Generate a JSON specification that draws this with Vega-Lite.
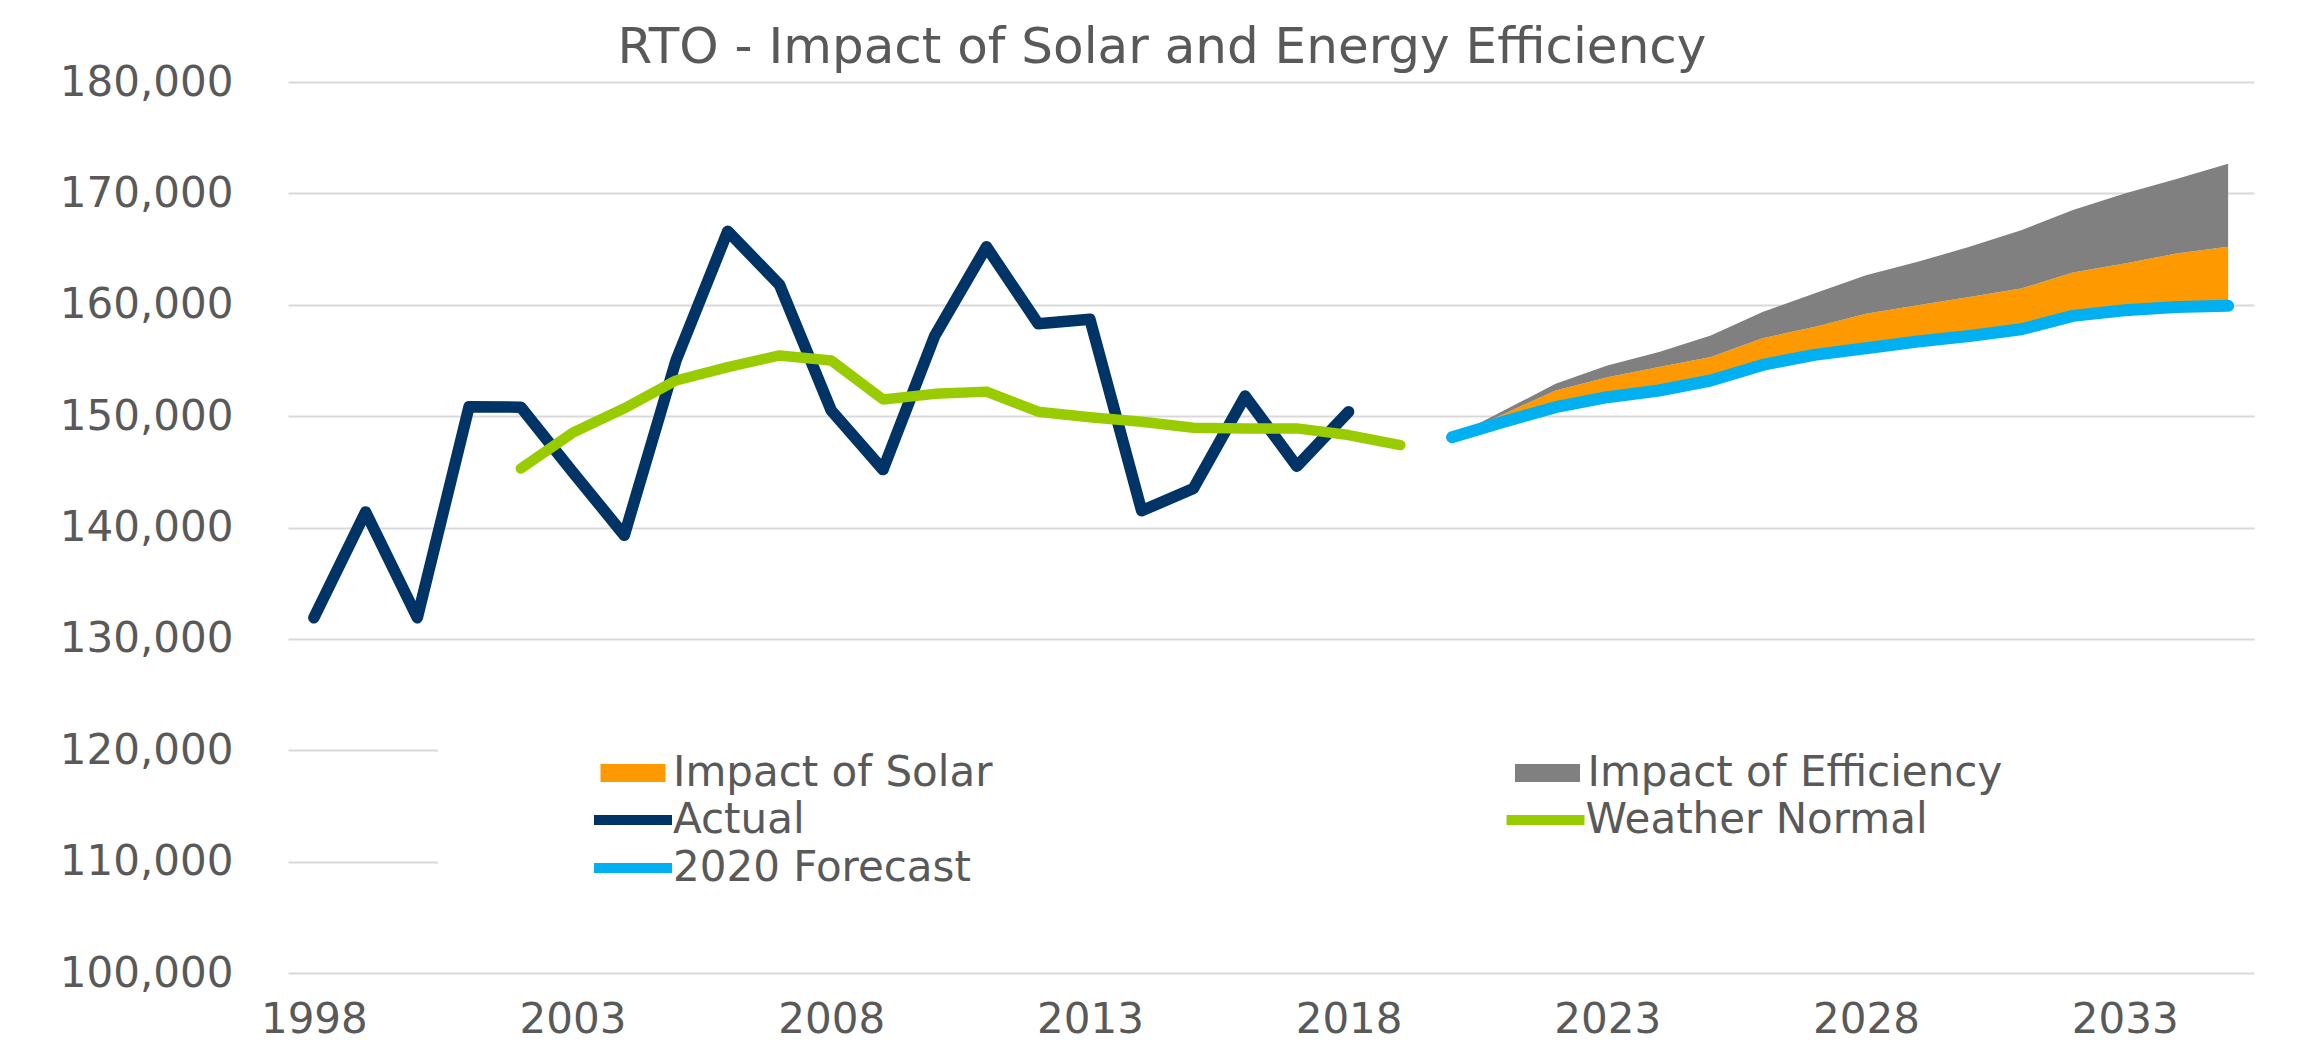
{
  "$schema": "https://vega.github.io/schema/vega-lite/v6.json",
  "autosize": {"type": "none"},
  "width": 1966,
  "height": 891,
  "padding": {"left": 288, "top": 82, "right": 69, "bottom": 69},
  "background": "white",
  "config": {"view": {"stroke": null}},
  "title": {
    "text": "RTO - Impact of Solar and Energy Efficiency",
    "font": "DejaVu Sans",
    "fontSize": 50,
    "fontWeight": "normal",
    "color": "#595959",
    "anchor": "middle",
    "frame": "group",
    "dx": -109,
    "dy": 62,
    "baseline": "alphabetic",
    "offset": 10
  },
  "data": {
    "values": [
      {"year": 1998, "series": "Actual", "value": 131900},
      {"year": 1999, "series": "Actual", "value": 141400},
      {"year": 2000, "series": "Actual", "value": 131900},
      {"year": 2001, "series": "Actual", "value": 150850},
      {"year": 2002, "series": "Actual", "value": 150800},
      {"year": 2003, "series": "Actual", "value": 145000},
      {"year": 2004, "series": "Actual", "value": 139300},
      {"year": 2005, "series": "Actual", "value": 155000},
      {"year": 2006, "series": "Actual", "value": 166600},
      {"year": 2007, "series": "Actual", "value": 161800},
      {"year": 2008, "series": "Actual", "value": 150500},
      {"year": 2009, "series": "Actual", "value": 145200},
      {"year": 2010, "series": "Actual", "value": 157200},
      {"year": 2011, "series": "Actual", "value": 165200},
      {"year": 2012, "series": "Actual", "value": 158300},
      {"year": 2013, "series": "Actual", "value": 158700},
      {"year": 2014, "series": "Actual", "value": 141500},
      {"year": 2015, "series": "Actual", "value": 143500},
      {"year": 2016, "series": "Actual", "value": 151800},
      {"year": 2017, "series": "Actual", "value": 145500},
      {"year": 2018, "series": "Actual", "value": 150400},
      {"year": 2002, "series": "Weather Normal", "value": 145300},
      {"year": 2003, "series": "Weather Normal", "value": 148500},
      {"year": 2004, "series": "Weather Normal", "value": 150700},
      {"year": 2005, "series": "Weather Normal", "value": 153200},
      {"year": 2006, "series": "Weather Normal", "value": 154400},
      {"year": 2007, "series": "Weather Normal", "value": 155450},
      {"year": 2008, "series": "Weather Normal", "value": 155000},
      {"year": 2009, "series": "Weather Normal", "value": 151500},
      {"year": 2010, "series": "Weather Normal", "value": 152000},
      {"year": 2011, "series": "Weather Normal", "value": 152200},
      {"year": 2012, "series": "Weather Normal", "value": 150400},
      {"year": 2013, "series": "Weather Normal", "value": 149900},
      {"year": 2014, "series": "Weather Normal", "value": 149500},
      {"year": 2015, "series": "Weather Normal", "value": 148950},
      {"year": 2016, "series": "Weather Normal", "value": 148900},
      {"year": 2017, "series": "Weather Normal", "value": 148900},
      {"year": 2018, "series": "Weather Normal", "value": 148300},
      {"year": 2019, "series": "Weather Normal", "value": 147400},
      {"year": 2020, "series": "2020 Forecast", "value": 148100},
      {"year": 2021, "series": "2020 Forecast", "value": 149500},
      {"year": 2022, "series": "2020 Forecast", "value": 150800},
      {"year": 2023, "series": "2020 Forecast", "value": 151700},
      {"year": 2024, "series": "2020 Forecast", "value": 152300},
      {"year": 2025, "series": "2020 Forecast", "value": 153200},
      {"year": 2026, "series": "2020 Forecast", "value": 154600},
      {"year": 2027, "series": "2020 Forecast", "value": 155500},
      {"year": 2028, "series": "2020 Forecast", "value": 156100},
      {"year": 2029, "series": "2020 Forecast", "value": 156700},
      {"year": 2030, "series": "2020 Forecast", "value": 157200},
      {"year": 2031, "series": "2020 Forecast", "value": 157800},
      {"year": 2032, "series": "2020 Forecast", "value": 159000},
      {"year": 2033, "series": "2020 Forecast", "value": 159500},
      {"year": 2034, "series": "2020 Forecast", "value": 159800},
      {"year": 2035, "series": "2020 Forecast", "value": 159900},
      {"year": 2020, "series": "Impact of Solar", "value": 148100, "base": 148100},
      {"year": 2021, "series": "Impact of Solar", "value": 150200, "base": 149500},
      {"year": 2022, "series": "Impact of Solar", "value": 152300, "base": 150800},
      {"year": 2023, "series": "Impact of Solar", "value": 153500, "base": 151700},
      {"year": 2024, "series": "Impact of Solar", "value": 154400, "base": 152300},
      {"year": 2025, "series": "Impact of Solar", "value": 155300, "base": 153200},
      {"year": 2026, "series": "Impact of Solar", "value": 157000, "base": 154600},
      {"year": 2027, "series": "Impact of Solar", "value": 158000, "base": 155500},
      {"year": 2028, "series": "Impact of Solar", "value": 159200, "base": 156100},
      {"year": 2029, "series": "Impact of Solar", "value": 159950, "base": 156700},
      {"year": 2030, "series": "Impact of Solar", "value": 160700, "base": 157200},
      {"year": 2031, "series": "Impact of Solar", "value": 161450, "base": 157800},
      {"year": 2032, "series": "Impact of Solar", "value": 162900, "base": 159000},
      {"year": 2033, "series": "Impact of Solar", "value": 163700, "base": 159500},
      {"year": 2034, "series": "Impact of Solar", "value": 164600, "base": 159800},
      {"year": 2035, "series": "Impact of Solar", "value": 165200, "base": 159900},
      {"year": 2020, "series": "Impact of Efficiency", "value": 148100, "base": 148100},
      {"year": 2021, "series": "Impact of Efficiency", "value": 150500, "base": 150200},
      {"year": 2022, "series": "Impact of Efficiency", "value": 152900, "base": 152300},
      {"year": 2023, "series": "Impact of Efficiency", "value": 154550, "base": 153500},
      {"year": 2024, "series": "Impact of Efficiency", "value": 155750, "base": 154400},
      {"year": 2025, "series": "Impact of Efficiency", "value": 157250, "base": 155300},
      {"year": 2026, "series": "Impact of Efficiency", "value": 159350, "base": 157000},
      {"year": 2027, "series": "Impact of Efficiency", "value": 161000, "base": 158000},
      {"year": 2028, "series": "Impact of Efficiency", "value": 162650, "base": 159200},
      {"year": 2029, "series": "Impact of Efficiency", "value": 163850, "base": 159950},
      {"year": 2030, "series": "Impact of Efficiency", "value": 165200, "base": 160700},
      {"year": 2031, "series": "Impact of Efficiency", "value": 166700, "base": 161450},
      {"year": 2032, "series": "Impact of Efficiency", "value": 168500, "base": 162900},
      {"year": 2033, "series": "Impact of Efficiency", "value": 170000, "base": 163700},
      {"year": 2034, "series": "Impact of Efficiency", "value": 171300, "base": 164600},
      {"year": 2035, "series": "Impact of Efficiency", "value": 172650, "base": 165200}
    ]
  },
  "encoding": {
    "x": {
      "field": "year",
      "type": "quantitative",
      "scale": {"domain": [1997.5, 2035.5], "nice": false, "zero": false},
      "axis": {
        "title": null,
        "values": [1998, 2003, 2008, 2013, 2018, 2023, 2028, 2033],
        "format": "d",
        "grid": false,
        "domain": false,
        "ticks": false,
        "tickSize": 0,
        "labelPadding": 26,
        "labelFlush": false,
        "labelOverlap": false,
        "labelFont": "DejaVu Sans",
        "labelFontSize": 42,
        "labelColor": "#595959"
      }
    },
    "y": {
      "field": "value",
      "type": "quantitative",
      "scale": {"domain": [100000, 180000], "nice": false, "zero": false},
      "axis": {
        "title": null,
        "values": [100000, 110000, 120000, 130000, 140000, 150000, 160000, 170000, 180000],
        "format": ",.0f",
        "grid": true,
        "gridColor": "#D9D9D9",
        "gridWidth": 2,
        "domain": false,
        "ticks": false,
        "tickSize": 0,
        "labelPadding": 55,
        "labelFont": "DejaVu Sans",
        "labelFontSize": 42,
        "labelColor": "#595959"
      }
    }
  },
  "layer": [
    {
      "transform": [{"filter": "datum.series === 'Impact of Solar' || datum.series === 'Impact of Efficiency'"}],
      "mark": {"type": "area", "opacity": 1, "interpolate": "linear"},
      "encoding": {
        "y2": {"field": "base"},
        "fill": {
          "field": "series",
          "type": "nominal",
          "scale": {"domain": ["Impact of Solar", "Impact of Efficiency"], "range": ["#FF9900", "#808080"]},
          "legend": {
            "title": ".",
            "titleOrient": "right",
            "titleColor": "white",
            "titleOpacity": 0,
            "titleFontSize": 8,
            "titlePadding": 246,
            "orient": "none",
            "legendX": 150,
            "legendY": 656,
            "columns": 2,
            "padding": 14,
            "fillColor": "white",
            "labelFont": "DejaVu Sans",
            "labelFontSize": 42,
            "labelColor": "#595959",
            "labelLimit": 0,
            "symbolType": "M-3.25,-0.9H3.25V0.9H-3.25Z",
            "symbolSize": 400,
            "symbolStrokeWidth": 0,
            "symbolOpacity": 1,
            "symbolOffset": 160,
            "labelOffset": 19,
            "columnPadding": 373.5
          }
        }
      }
    },
    {
      "transform": [{"filter": "datum.series === '2020 Forecast'"}],
      "mark": {"type": "line", "strokeWidth": 12, "strokeCap": "round", "strokeJoin": "round"},
      "encoding": {
        "stroke": {
          "field": "series",
          "type": "nominal",
          "scale": {"domain": ["Actual", "2020 Forecast", "Weather Normal"], "range": ["#003366", "#00B0F0", "#99CC00"]},
          "legend": {
            "title": ".",
            "titleOrient": "right",
            "titleColor": "white",
            "titleOpacity": 0,
            "titleFontSize": 8,
            "titlePadding": 327,
            "orient": "none",
            "legendX": 150,
            "legendY": 713,
            "columns": 2,
            "padding": 4,
            "fillColor": "white",
            "labelFont": "DejaVu Sans",
            "labelFontSize": 42,
            "labelColor": "#595959",
            "labelLimit": 0,
            "symbolType": "M-3.9,0H3.9",
            "symbolSize": 400,
            "symbolStrokeWidth": 10,
            "symbolOpacity": 1,
            "symbolOffset": 170,
            "labelOffset": 19,
            "columnPadding": 383.5,
            "rowPadding": 6
          }
        }
      }
    },
    {
      "transform": [{"filter": "datum.series === 'Actual'"}],
      "mark": {"type": "line", "strokeWidth": 11.5, "strokeCap": "round", "strokeJoin": "round"},
      "encoding": {"stroke": {"field": "series", "type": "nominal"}}
    },
    {
      "transform": [{"filter": "datum.series === 'Weather Normal'"}],
      "mark": {"type": "line", "strokeWidth": 10.5, "strokeCap": "round", "strokeJoin": "round"},
      "encoding": {"stroke": {"field": "series", "type": "nominal"}}
    }
  ]
}
